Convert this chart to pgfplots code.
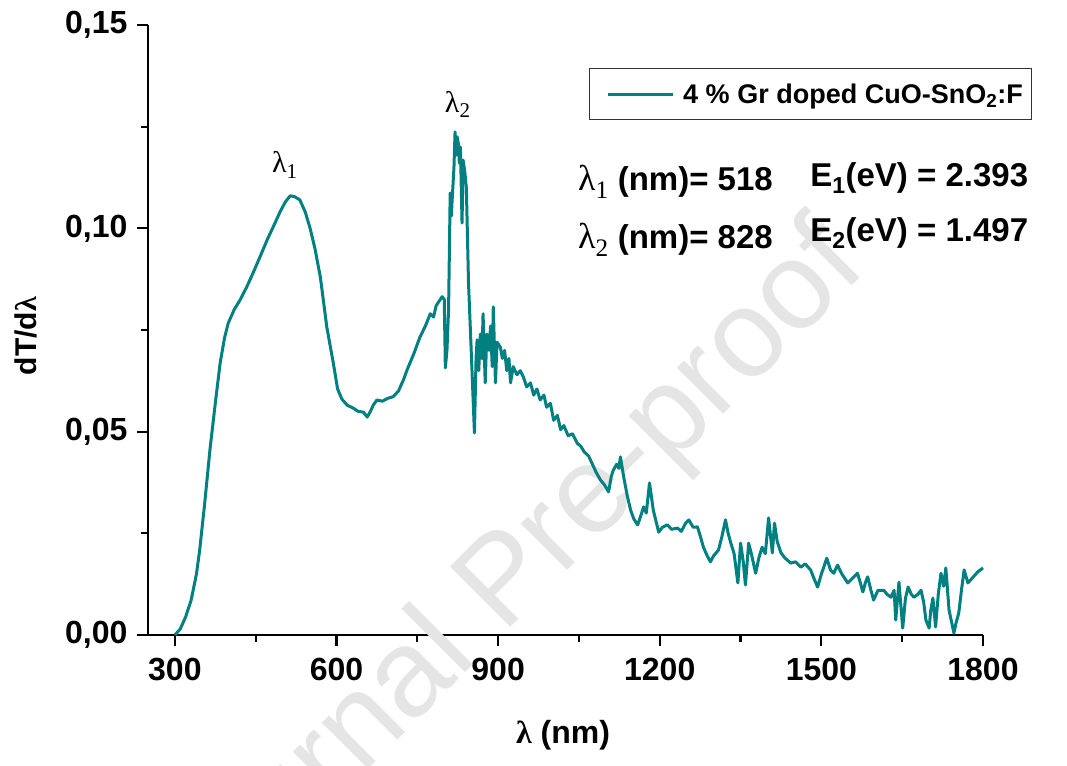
\documentclass[border=0pt]{standalone}
\usepackage{fontspec}
\setmainfont{Liberation Sans}
\newfontfamily\serif{Liberation Serif}
\usepackage{pgfplots}
\pgfplotsset{compat=1.18}
\definecolor{curve}{RGB}{0,128,128}
\begin{document}
\begin{tikzpicture}[x=1pt,y=1pt]
\begin{axis}[
  scale only axis, width=835pt, height=610pt,
  xmin=250, xmax=1800, ymin=0, ymax=0.15,
  axis x line*=bottom, axis y line*=left,
  axis line style={line width=2.4pt,-},
  xtick={300,600,900,1200,1500,1800},
  ytick={0,0.05,0.10,0.15},
  yticklabels={{0,00},{0,05},{0,10},{0,15}},
  minor x tick num=1, minor y tick num=1,
  tick align=outside,
  major tick length=11pt, minor tick length=7pt,
  every tick/.style={line width=2.2pt, black},
  /pgf/number format/assume math mode=true,
  /pgf/number format/set thousands separator={},
  ticklabel style={font=\fontsize{32}{34}\selectfont\bfseries},
  xticklabel style={yshift=-9pt},
  yticklabel style={xshift=-6pt},
  xlabel={{\serif λ} (nm)},
  ylabel={dT/d{\serif λ}},
  xlabel style={font=\fontsize{32}{34}\selectfont\bfseries, at={(rel axis cs:0.497,-0.164)}, anchor=center},
  ylabel style={font=\fontsize{30}{32}\selectfont\bfseries, at={(rel axis cs:-0.146,0.49)}, anchor=center},
  clip=false,
  legend style={at={(rel axis cs:1.059,0.9295)}, anchor=north east,
    draw=black!80, line width=1pt, font=\fontsize{27}{30}\selectfont\bfseries,
    inner xsep=7pt, inner ysep=13pt},
  legend cell align=left,
  legend image post style={line width=3pt},
  legend image code/.code={\path (-10pt,0pt) (72pt,0pt); \draw[#1] (0pt,0pt) -- (65pt,0pt);},
]
\node[rotate=45, anchor=base, text=black!10, font=\fontsize{124}{126}\selectfont] at (rel axis cs:0.458,0.045) {Journal Pre-proof};
\addplot[color=curve, line width=3pt, line join=round] coordinates {
(300,0) (310,0.0015) (320,0.0045) (330,0.0085) (340,0.0150) (346,0.0209) (355,0.0320) (365,0.0455) (375,0.0570) (384,0.0669) (392,0.0730) (399,0.0767) (410,0.0800) (421,0.0824) (433,0.0855) (445,0.0890) (458,0.0930) (471,0.0971) (483,0.1005) (495,0.1040) (505,0.1065) (514,0.1080) (522,0.1078) (532,0.1070) (542,0.1040) (551,0.1000) (560,0.0950) (570,0.0880) (582,0.0757) (594,0.0669) (602,0.0605) (610,0.0580) (620,0.0565) (631,0.0558) (640,0.0550) (650,0.0548) (657,0.0536) (663,0.0550) (668,0.0565) (675,0.0578) (685,0.0575) (695,0.0582) (705,0.0586) (715,0.0600) (725,0.0630) (731,0.0652) (743,0.0690) (755,0.0733) (765,0.0760) (774,0.0790) (780,0.0782) (785,0.0810) (790,0.0820) (796,0.0832) (800,0.0825) (802,0.0657) (805,0.0700) (808,0.0800) (811,0.1087) (813,0.1030) (815,0.1078) (818,0.1150) (820,0.1237) (822,0.1180) (824,0.1225) (826,0.1210) (828,0.1160) (830,0.1200) (833,0.1013) (835,0.1168) (838,0.1140) (841,0.1100) (845,0.0866) (850,0.0700) (856,0.0497) (859,0.0680) (861,0.0726) (864,0.0650) (867,0.0740) (870,0.0680) (872,0.0790) (876,0.0620) (879,0.0740) (883,0.0700) (886,0.0760) (889,0.0660) (891,0.0807) (895,0.0620) (898,0.0720) (904,0.0708) (908,0.0680) (912,0.0700) (916,0.0650) (920,0.0680) (923,0.0620) (928,0.0660) (935,0.0640) (941,0.0650) (947,0.0634) (953,0.0610) (960,0.0620) (966,0.0590) (972,0.0605) (978,0.0578) (985,0.0590) (990,0.0560) (997,0.0570) (1003,0.0528) (1010,0.0540) (1016,0.0505) (1022,0.0515) (1030,0.0490) (1038,0.0495) (1047,0.0471) (1053,0.0465) (1060,0.0450) (1068,0.0440) (1075,0.0420) (1082,0.0400) (1090,0.0381) (1097,0.0370) (1105,0.0352) (1110,0.0390) (1114,0.0406) (1120,0.0420) (1124,0.0410) (1127,0.0438) (1133,0.0389) (1140,0.0340) (1146,0.0307) (1152,0.0285) (1159,0.0271) (1164,0.0290) (1170,0.0315) (1175,0.0300) (1181,0.0374) (1188,0.0307) (1193,0.0280) (1198,0.0253) (1205,0.0265) (1214,0.0271) (1222,0.0260) (1233,0.0263) (1240,0.0255) (1248,0.0275) (1254,0.0283) (1262,0.0265) (1270,0.0266) (1276,0.0240) (1281,0.0216) (1288,0.0195) (1294,0.0180) (1300,0.0195) (1309,0.0209) (1315,0.0240) (1322,0.0283) (1327,0.0250) (1332,0.0226) (1338,0.0200) (1345,0.0128) (1350,0.0226) (1355,0.0180) (1359,0.0123) (1365,0.0226) (1370,0.0200) (1378,0.0152) (1384,0.0190) (1390,0.0216) (1396,0.0200) (1402,0.0288) (1409,0.0202) (1413,0.0275) (1418,0.0230) (1425,0.0202) (1432,0.0190) (1443,0.0177) (1452,0.0180) (1462,0.0167) (1470,0.0175) (1480,0.0160) (1486,0.0140) (1493,0.0118) (1500,0.0150) (1510,0.0189) (1517,0.0160) (1523,0.0152) (1530,0.0172) (1538,0.0150) (1549,0.0128) (1558,0.0140) (1567,0.0152) (1572,0.0130) (1577,0.0106) (1582,0.0130) (1586,0.0143) (1592,0.0110) (1597,0.0086) (1605,0.0110) (1616,0.0110) (1622,0.0100) (1629,0.0093) (1635,0.0110) (1638,0.0037) (1644,0.0130) (1651,0.0017) (1656,0.0090) (1661,0.0118) (1667,0.0100) (1672,0.0093) (1679,0.0100) (1685,0.0110) (1690,0.0080) (1694,0.0037) (1700,0.0017) (1703,0.0060) (1707,0.0091) (1712,0.0020) (1717,0.0100) (1722,0.0152) (1727,0.0120) (1731,0.0165) (1737,0.0061) (1742,0.0030) (1746,0.0005) (1750,0.0030) (1755,0.0054) (1760,0.0110) (1765,0.0160) (1772,0.0128) (1780,0.0140) (1790,0.0155) (1800,0.0165)
};
\addlegendentry{4 \% Gr doped CuO-SnO\textsubscript{2}:F}
\node[font=\fontsize{30}{32}\selectfont\serif] at (axis cs:504,0.1156) {λ\textsubscript{1}};
\node[font=\fontsize{30}{32}\selectfont\serif] at (axis cs:825,0.1305) {λ\textsubscript{2}};
\node[anchor=west, inner sep=0pt, font=\fontsize{33}{35}\selectfont\bfseries] at (axis cs:1048,0.1114) {{\serif\mdseries\fontsize{36}{36}\selectfont λ\textsubscript{1}} (nm)= 518};
\node[anchor=west, inner sep=0pt, font=\fontsize{33}{35}\selectfont\bfseries] at (axis cs:1048,0.0971) {{\serif\mdseries\fontsize{36}{36}\selectfont λ\textsubscript{2}} (nm)= 828};
\node[anchor=west, inner sep=0pt, font=\fontsize{33}{35}\selectfont\bfseries] at (axis cs:1479,0.1124) {E\textsubscript{1}(eV) = 2.393};
\node[anchor=west, inner sep=0pt, font=\fontsize{33}{35}\selectfont\bfseries] at (axis cs:1479,0.0989) {E\textsubscript{2}(eV) = 1.497};
\coordinate (bl) at (rel axis cs:-0.1772,-0.2131);
\coordinate (tr) at (rel axis cs:1.1006,1.041);
\end{axis}
\pgfresetboundingbox
\path[use as bounding box] (bl) rectangle (tr);
\end{tikzpicture}
\end{document}
